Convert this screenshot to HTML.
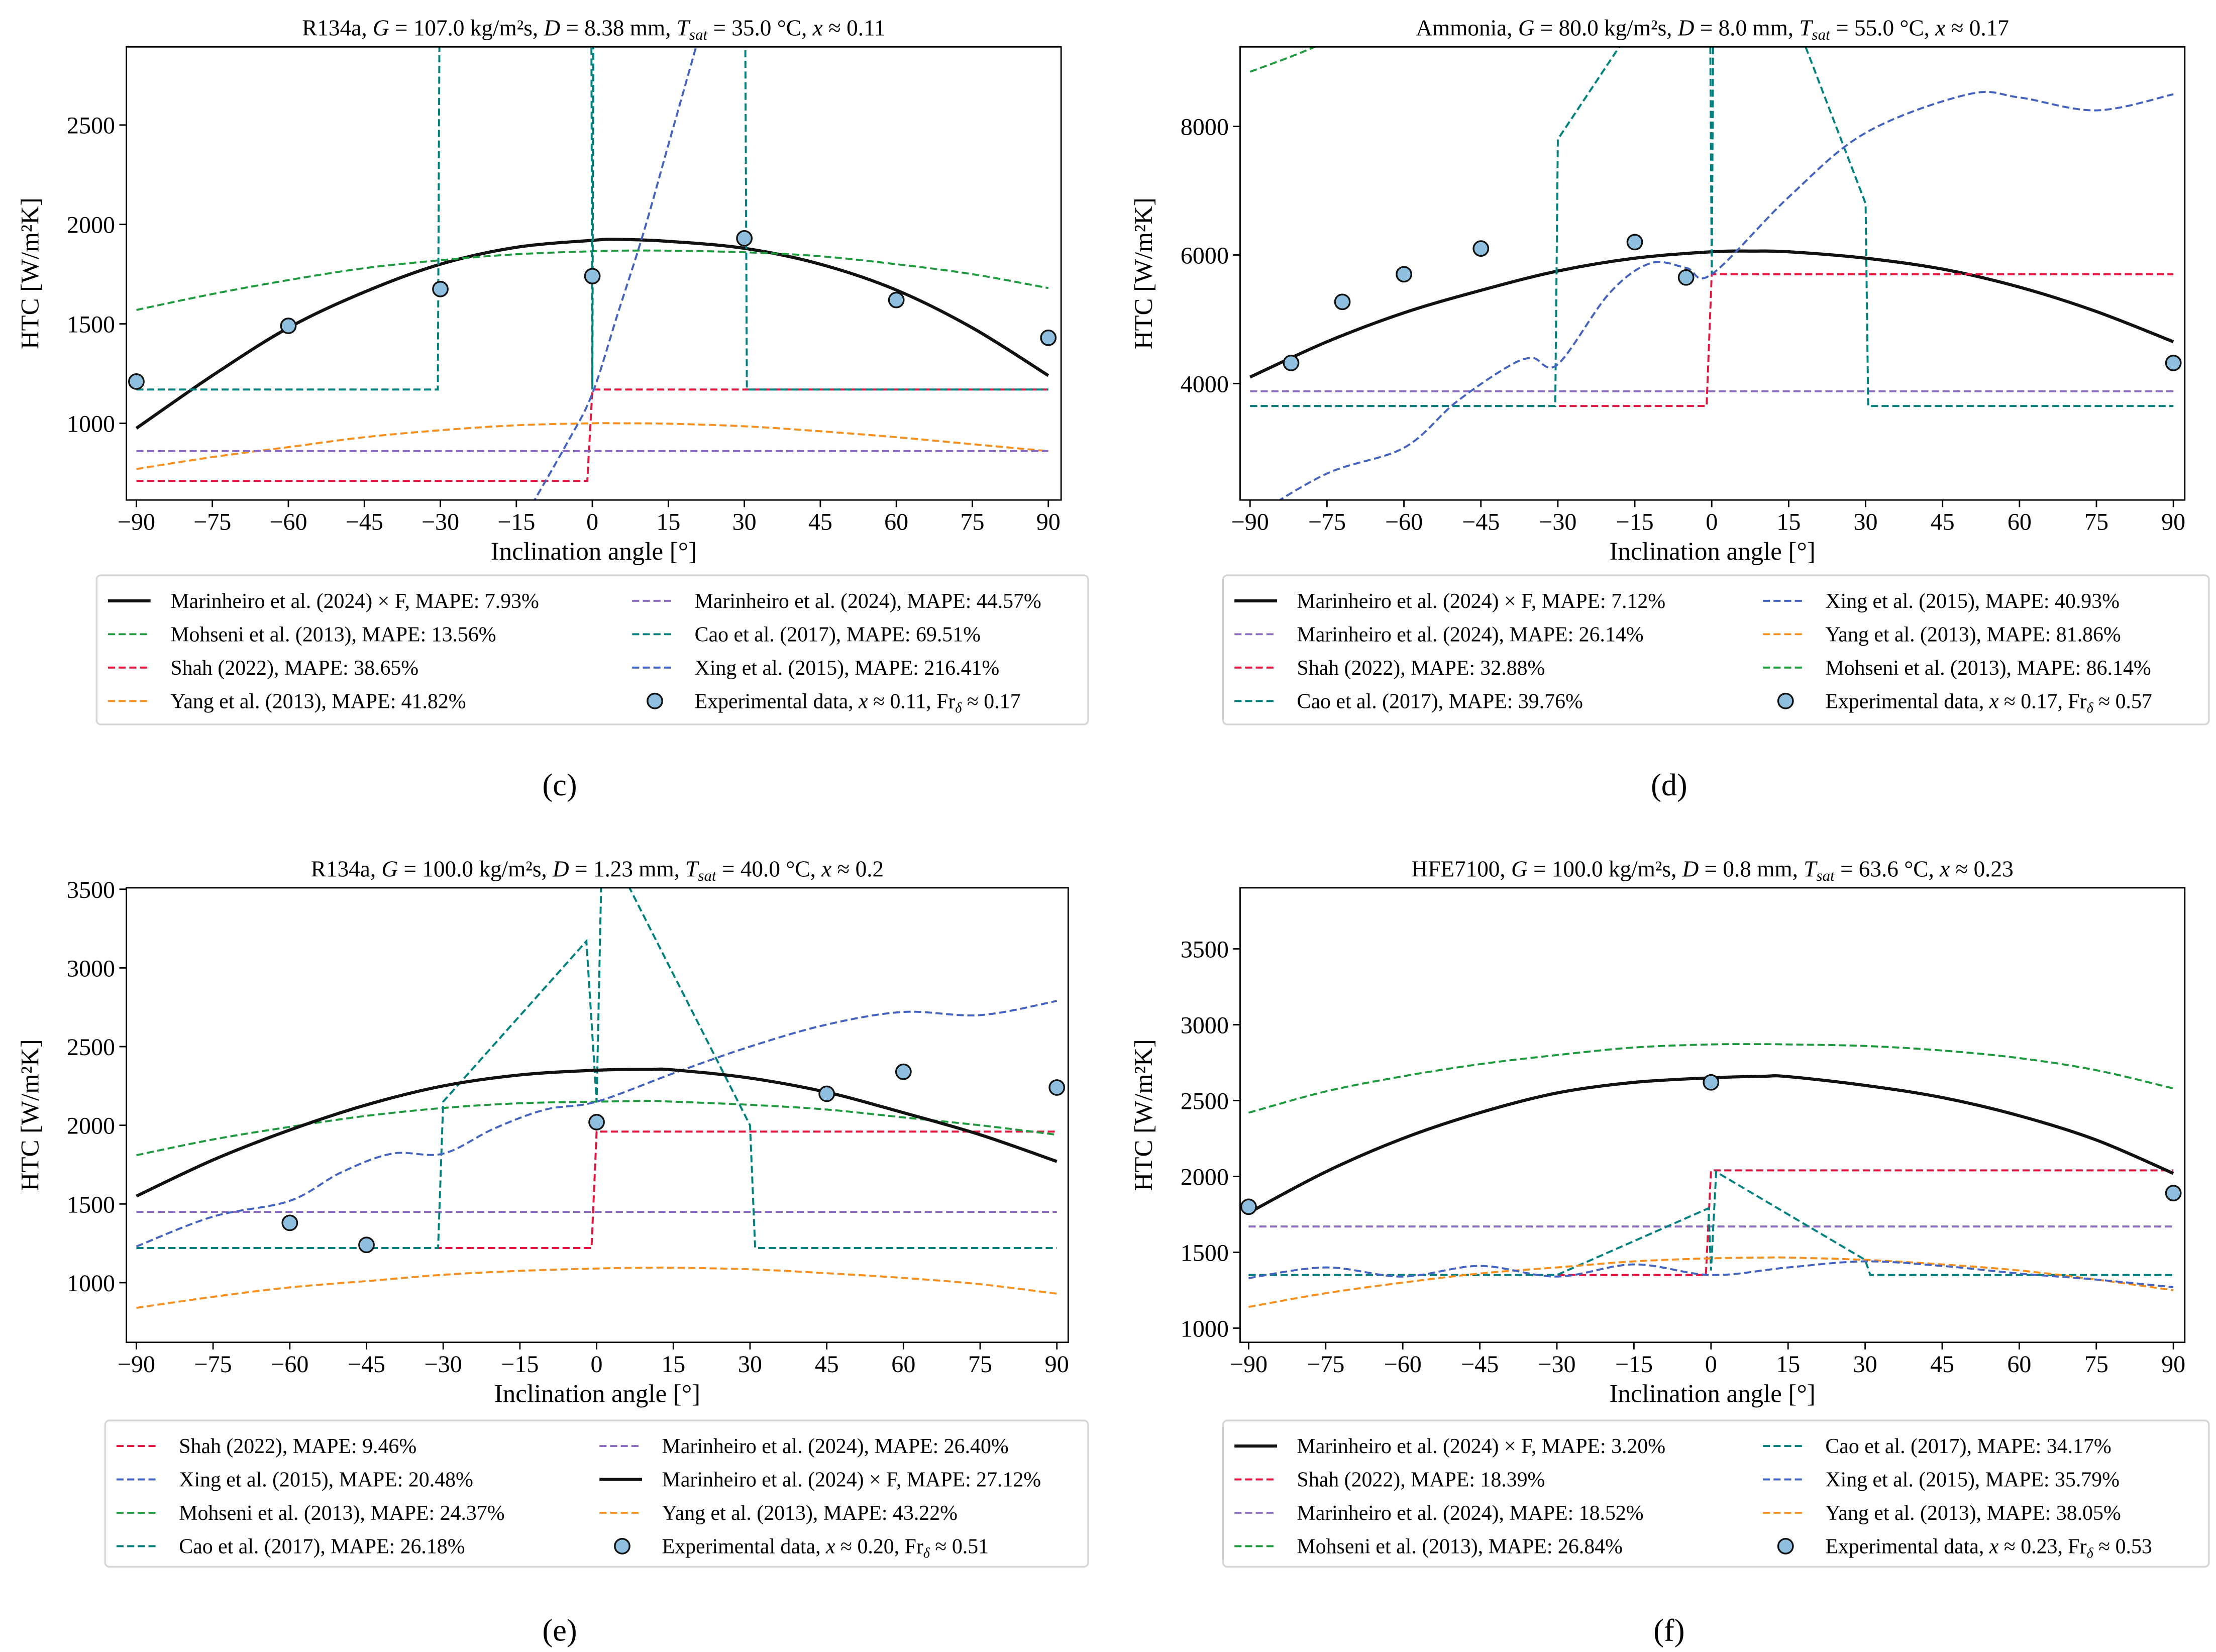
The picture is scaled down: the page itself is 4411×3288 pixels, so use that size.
<!DOCTYPE html>
<html><head><meta charset="utf-8"><style>
html,body{margin:0;padding:0;background:#fff;}
svg{display:block;font-family:"Liberation Serif",serif;}
</style></head><body>
<svg id="fig" width="4411" height="3288" viewBox="0 0 1560 1163" preserveAspectRatio="none" xmlns="http://www.w3.org/2000/svg"></svg>
<script>
// ---- data ----
const c_ang=[-90,-75,-60,-45,-30,-15,0,5,15,30,45,60,75,90];
const c_black=[975,1240,1480,1660,1800,1885,1920,1925,1915,1880,1800,1670,1480,1240];
const c_green=[1570,1650,1720,1780,1820,1850,1865,1868,1868,1860,1840,1800,1750,1680];
const c_orange=[770,830,880,930,965,990,1000,1000,998,985,960,930,895,860];
const c_red_a=[-90,-1,0,90]; const c_red=[710,710,1170,1170];
const c_purple_a=[-90,90]; const c_purple=[860,860];
const c_teal_a=[-90,-30.5,-30,-0.3,0,0.3,30,30.5,90]; const c_teal=[1170,1170,4000,4000,1170,4000,4000,1170,1170];
const c_blue_a=[-14,-5,0,5,10,15,20,25]; const c_blue=[500,900,1150,1550,1950,2400,2850,3300];
const c_pts_a=[-90,-60,-30,0,30,60,90]; const c_pts=[1210,1490,1675,1740,1930,1620,1430];

const d_ang=[-90,-75,-60,-45,-30,-15,0,8,15,30,45,60,75,90];
const d_black=[4100,4650,5100,5450,5750,5950,6050,6060,6050,5950,5780,5500,5120,4650];
const d_purple_a=[-90,90]; const d_purple=[3880,3880];
const d_red_a=[-90,-1,0,90]; const d_red=[3650,3650,5700,5700];
const d_teal_a=[-90,-30.5,-30,-15,-0.3,0,0.3,18,30,30.5,90]; const d_teal=[3650,3650,7800,9600,9600,5700,9600,9300,6800,3650,3650];
const d_blue_a=[-90,-75,-60,-50,-40,-35,-30,-20,-12,-5,0,15,30,50,60,75,90]; const d_blue=[1900,2600,3000,3700,4250,4400,4300,5400,5870,5800,5700,6900,7900,8500,8450,8250,8500];
const d_green_a=[-90,-80,-70]; const d_green=[8850,9150,9500];
const d_pts_a=[-82,-72,-60,-45,-15,-5,90]; const d_pts=[4320,5270,5700,6100,6200,5650,4320];

const e_ang=[-90,-75,-60,-45,-30,-15,0,10,15,30,45,60,75,90];
const e_black=[1550,1780,1970,2130,2250,2320,2350,2355,2352,2300,2210,2080,1940,1770];
const e_purple_a=[-90,90]; const e_purple=[1450,1450];
const e_red_a=[-90,-1,0,90]; const e_red=[1220,1220,1960,1960];
const e_green=[1810,1910,1990,2060,2110,2140,2150,2155,2150,2130,2100,2050,2000,1940];
const e_orange=[840,910,970,1010,1050,1075,1090,1095,1095,1085,1060,1030,990,930];
const e_teal_a=[-90,-31,-30,-2,0,1,5,30,31,90]; const e_teal=[1220,1220,2150,3170,2150,3700,3600,2000,1220,1220];
const e_blue_a=[-90,-75,-60,-50,-40,-30,-20,-10,0,15,30,45,60,75,90]; const e_blue=[1230,1420,1520,1700,1820,1820,1980,2100,2150,2330,2500,2640,2720,2700,2790];
const e_pts_a=[-60,-45,0,45,60,90]; const e_pts=[1380,1240,2020,2200,2340,2240];

const f_ang=[-90,-75,-60,-45,-30,-15,0,10,15,30,45,60,75,90];
const f_black=[1760,2030,2250,2420,2550,2620,2650,2660,2658,2600,2520,2400,2240,2020];
const f_green=[2420,2560,2660,2740,2800,2850,2870,2872,2870,2860,2830,2780,2700,2580];
const f_purple_a=[-90,90]; const f_purple=[1670,1670];
const f_red_a=[-90,-1,0,90]; const f_red=[1350,1350,2040,2040];
const f_teal_a=[-90,-30,-0.5,0,1,30,31,90]; const f_teal=[1350,1350,1790,1380,2030,1450,1350,1350];
const f_orange=[1140,1230,1300,1360,1400,1440,1460,1465,1465,1450,1420,1380,1320,1250];
const f_blue_a=[-90,-75,-60,-45,-30,-15,0,15,30,45,60,75,90]; const f_blue=[1330,1400,1340,1410,1340,1420,1350,1400,1440,1410,1360,1320,1270];
const f_pts_a=[-90,0,90]; const f_pts=[1800,2620,1890];

const xTicks=[-90,-75,-60,-45,-30,-15,0,15,30,45,60,75,90];
const c_yt=[1000,1500,2000,2500]; const d_yt=[4000,6000,8000]; const e_yt=[1000,1500,2000,2500,3000,3500]; const f_yt=[1000,1500,2000,2500,3000,3500];

const COL={black:'#111',green:'#1e9a3e',red:'#e3163f',orange:'#f7901e',purple:'#8a6cc0',teal:'#00807e',blue:'#4462c0'};
const NS='http://www.w3.org/2000/svg';
const svg=document.getElementById('fig');
function mk(t,a,p){const e=document.createElementNS(NS,t);for(const k in a)e.setAttribute(k,a[k]);(p||svg).appendChild(e);return e;}
function smoothPath(P){
 let d='M'+P[0][0].toFixed(2)+','+P[0][1].toFixed(2);
 for(let i=0;i<P.length-1;i++){
  const p0=P[Math.max(0,i-1)],p1=P[i],p2=P[i+1],p3=P[Math.min(P.length-1,i+2)];
  const c1=[p1[0]+(p2[0]-p0[0])/6,p1[1]+(p2[1]-p0[1])/6];
  const c2=[p2[0]-(p3[0]-p1[0])/6,p2[1]-(p3[1]-p1[1])/6];
  d+='C'+c1.map(v=>v.toFixed(2)).join(',')+' '+c2.map(v=>v.toFixed(2)).join(',')+' '+p2.map(v=>v.toFixed(2)).join(',');
 }
 return d;
}

const panels=[
 {id:'c',L:89,R:747,T:33,B:352,x0:96,x1:738,va:1000,ya:298,vb:2500,yb:88,yt:c_yt,colW:369,
  title:['R134a, ','107.0','8.38','35.0','0.11'],lg:[68,405,766,510],lab:'(c)',lx:394,ly:552,
  series:[['black',c_ang,c_black,'solid'],['green',c_ang,c_green,0,1],['red',c_red_a,c_red],['orange',c_ang,c_orange,0,1],['purple',c_purple_a,c_purple],['teal',c_teal_a,c_teal],['blue',c_blue_a,c_blue,0,1]],pts:[c_pts_a,c_pts],
  leg:[['black','Marinheiro et al. (2024) × F, MAPE: 7.93%'],['green','Mohseni et al. (2013), MAPE: 13.56%'],['red','Shah (2022), MAPE: 38.65%'],['orange','Yang et al. (2013), MAPE: 41.82%'],['purple','Marinheiro et al. (2024), MAPE: 44.57%'],['teal','Cao et al. (2017), MAPE: 69.51%'],['blue','Xing et al. (2015), MAPE: 216.41%'],['pt','0.11','0.17']]},
 {id:'d',L:873,R:1538,T:33,B:352,x0:880,x1:1530,va:4000,ya:270,vb:8000,yb:89,yt:d_yt,colW:372,
  title:['Ammonia, ','80.0','8.0','55.0','0.17'],lg:[861,405,1555,510],lab:'(d)',lx:1175,ly:552,
  series:[['black',d_ang,d_black,'solid'],['purple',d_purple_a,d_purple],['red',d_red_a,d_red],['teal',d_teal_a,d_teal],['blue',d_blue_a,d_blue,0,1],['green',d_green_a,d_green,0,1]],pts:[d_pts_a,d_pts],
  leg:[['black','Marinheiro et al. (2024) × F, MAPE: 7.12%'],['purple','Marinheiro et al. (2024), MAPE: 26.14%'],['red','Shah (2022), MAPE: 32.88%'],['teal','Cao et al. (2017), MAPE: 39.76%'],['blue','Xing et al. (2015), MAPE: 40.93%'],['orange','Yang et al. (2013), MAPE: 81.86%'],['green','Mohseni et al. (2013), MAPE: 86.14%'],['pt','0.17','0.57']]},
 {id:'e',L:89,R:752,T:625,B:945,x0:96,x1:744,va:1000,ya:903,vb:3500,yb:626,yt:e_yt,colW:340,
  title:['R134a, ','100.0','1.23','40.0','0.2'],lg:[74,1000,766,1103],lab:'(e)',lx:394,ly:1147,
  series:[['purple',e_purple_a,e_purple],['red',e_red_a,e_red],['green',e_ang,e_green,0,1],['orange',e_ang,e_orange,0,1],['teal',e_teal_a,e_teal],['blue',e_blue_a,e_blue,0,1],['black',e_ang,e_black,'solid']],pts:[e_pts_a,e_pts],
  leg:[['red','Shah (2022), MAPE: 9.46%'],['blue','Xing et al. (2015), MAPE: 20.48%'],['green','Mohseni et al. (2013), MAPE: 24.37%'],['teal','Cao et al. (2017), MAPE: 26.18%'],['purple','Marinheiro et al. (2024), MAPE: 26.40%'],['black','Marinheiro et al. (2024) × F, MAPE: 27.12%'],['orange','Yang et al. (2013), MAPE: 43.22%'],['pt','0.20','0.51']]},
 {id:'f',L:873,R:1538,T:625,B:945,x0:879,x1:1530,va:1000,ya:935,vb:3500,yb:668,yt:f_yt,colW:372,
  title:['HFE7100, ','100.0','0.8','63.6','0.23'],lg:[861,1000,1555,1103],lab:'(f)',lx:1175,ly:1147,
  series:[['green',f_ang,f_green,0,1],['purple',f_purple_a,f_purple],['red',f_red_a,f_red],['teal',f_teal_a,f_teal],['orange',f_ang,f_orange,0,1],['blue',f_blue_a,f_blue,0,1],['black',f_ang,f_black,'solid']],pts:[f_pts_a,f_pts],
  leg:[['black','Marinheiro et al. (2024) × F, MAPE: 3.20%'],['red','Shah (2022), MAPE: 18.39%'],['purple','Marinheiro et al. (2024), MAPE: 18.52%'],['green','Mohseni et al. (2013), MAPE: 26.84%'],['teal','Cao et al. (2017), MAPE: 34.17%'],['blue','Xing et al. (2015), MAPE: 35.79%'],['orange','Yang et al. (2013), MAPE: 38.05%'],['pt','0.23','0.53']]}
];

panels.forEach(p=>{
 const X=a=>p.x0+(a+90)/180*(p.x1-p.x0);
 const Y=v=>p.ya+(v-p.va)*(p.yb-p.ya)/(p.vb-p.va);
 const g=mk('g',{});
 
 
 const cp=mk('clipPath',{id:'clip'+p.id},g);
 mk('rect',{x:p.L,y:p.T,width:p.R-p.L,height:p.B-p.T},cp);
 const t=mk('text',{x:(p.L+p.R)/2,y:p.T-8,'text-anchor':'middle','font-size':16},g);
 
 
 t.innerHTML=`${p.title[0]}<tspan font-style="italic">G</tspan> = ${p.title[1]} kg/m²s, <tspan font-style="italic">D</tspan> = ${p.title[2]} mm, <tspan font-style="italic">T</tspan><tspan font-style="italic" font-size="11" dy="3">sat</tspan><tspan dy="-3"> = ${p.title[3]} °C, </tspan><tspan font-style="italic">x</tspan> ≈ ${p.title[4]}`;
 const sg=mk('g',{'clip-path':`url(#clip${p.id})`},g);
 p.series.forEach(s=>{
  const P=s[1].map((a,i)=>[X(a),Y(s[2][i])]);
  const smooth=s[3]==='solid'||s[4];
  const d=smooth?smoothPath(P):P.map((q,i)=>(i?'L':'M')+q[0].toFixed(2)+','+q[1].toFixed(2)).join('');
  const pa=mk('path',{d:d,fill:'none',stroke:COL[s[0]],'stroke-width':s[3]?2.2:1.4,'stroke-dasharray':s[3]?'none':'5,2.5'},sg);
  
  
 });
 p.pts[0].forEach((a,i)=>{
  const c=mk('circle',{cx:X(a),cy:Y(p.pts[1][i]),r:5.2,fill:'#8fbfdf',stroke:'#111','stroke-width':1.2},g);
  
  
 });
 const fr=mk('rect',{x:p.L,y:p.T,width:p.R-p.L,height:p.B-p.T,fill:'none',stroke:'#000','stroke-width':1},g);
 
 
 xTicks.forEach(a=>{
  mk('line',{x1:X(a),x2:X(a),y1:p.B,y2:p.B+5,stroke:'#000'},g);
  const tl=mk('text',{x:X(a),y:p.B+21,'text-anchor':'middle','font-size':17},g);
  
  
  tl.textContent=(a<0?'−':'')+Math.abs(a);
 });
 p.yt.forEach(v=>{
  mk('line',{x1:p.L-5,x2:p.L,y1:Y(v),y2:Y(v),stroke:'#000'},g);
  const tl=mk('text',{x:p.L-8,y:Y(v)+6,'text-anchor':'end','font-size':17},g);
  
  
  tl.textContent=v;
 });
 const xl=mk('text',{x:(p.L+p.R)/2,y:p.B+42,'text-anchor':'middle','font-size':18},g);
 
 
 xl.textContent='Inclination angle [°]';
 const cy=(p.T+p.B)/2;
 const yl=mk('text',{x:p.L-62,y:cy,'text-anchor':'middle','font-size':18,transform:`rotate(-90 ${p.L-62} ${cy})`},g);
 
 
 yl.textContent='HTC [W/m²K]';
 const [lx0,ly0,lx1,ly1]=p.lg;
 const lgg=mk('g',{},g);
 
 
 mk('rect',{x:lx0,y:ly0,width:lx1-lx0,height:ly1-ly0,rx:3,fill:'#fff',stroke:'#d6d6d6','stroke-width':1.2},lgg);
 p.leg.forEach((e,i)=>{
  const col=Math.floor(i/4),row=i%4;
  const bx=lx0+6+col*p.colW, by=ly0+18+row*23.5;
  const eg=mk('g',{},lgg);
  
  
  if(e[0]==='pt'){
   mk('circle',{cx:bx+18,cy:by,r:5.2,fill:'#8fbfdf',stroke:'#111','stroke-width':1.2},eg);
   const tt=mk('text',{x:bx+46,y:by+5,'font-size':14.8},eg);
   tt.innerHTML=`Experimental data, <tspan font-style="italic">x</tspan> ≈ ${e[1]}, Fr<tspan font-style="italic" font-size="10" dy="3">δ</tspan><tspan dy="-3"> ≈  ${e[2]}</tspan>`;
  } else {
   mk('line',{x1:bx+2,x2:bx+32,y1:by,y2:by,stroke:COL[e[0]],'stroke-width':e[0]==='black'?2.2:1.4,'stroke-dasharray':e[0]==='black'?'none':'5,2.5'},eg);
   const tt=mk('text',{x:bx+46,y:by+5,'font-size':14.8},eg);
   tt.textContent=e[1];
  }
 });
 const lb=mk('text',{x:p.lx,y:p.ly+8,'text-anchor':'middle','font-size':22},g);
 
 
 lb.textContent=p.lab;
});
</script>
</body></html>
